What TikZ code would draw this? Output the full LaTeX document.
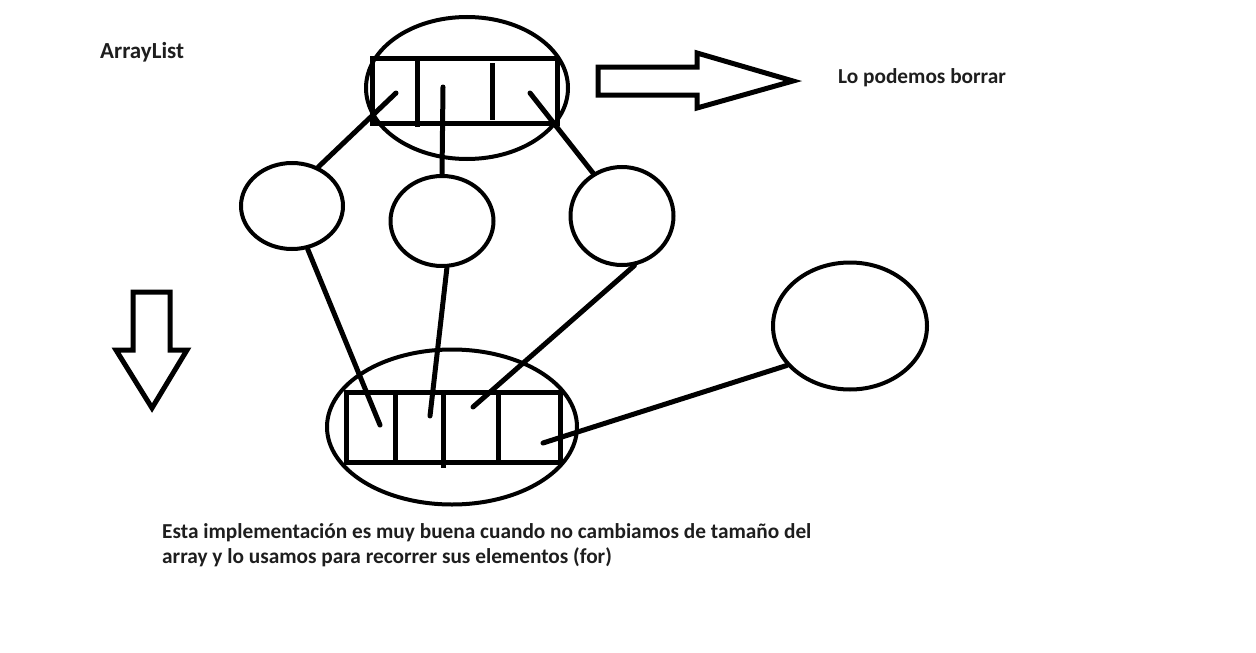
\documentclass[tikz,border=0pt]{standalone}
\usepackage{fontspec}
\setmainfont{Carlito}
\usetikzlibrary{shapes.geometric}
\definecolor{inkgray}{HTML}{1E1E1E}

\begin{document}
\begin{tikzpicture}[x=1pt,y=-1pt,
    every node/.style={inner sep=0pt},
    setnode/.style={shape=ellipse,draw,line width=4pt},
    arrnode/.style={shape=rectangle,draw,line width=5pt},
    link/.style={line width=5pt,line cap=round},
    label/.style={anchor=base west,text=inkgray,font=\fontsize{21.3}{25}\selectfont\bfseries,align=left},
    bigarrow/.style={draw,line width=5pt,line join=miter,fill=white}]
    \useasboundingbox[fill=white] (0,0) rectangle (1256,653);
	    % top array and its set
	    \node[setnode,minimum width=202pt,minimum height=142pt] (topset) at (467,88) {};
	    \node[arrnode,minimum width=185pt,minimum height=65pt] (toparr) at (464.5,90.5) {};
	    \draw[link,line cap=butt] (417,58) -- (417,127);
	    \draw[link,line cap=butt] (492,63) -- (492,120);
	    % elements
	    \node[setnode,minimum width=102pt,minimum height=86pt] (lc) at (292,206) {};
	    \node[setnode,minimum width=103pt,minimum height=90pt] (mc) at (442,221) {};
	    \node[setnode,minimum width=103pt,minimum height=98pt] (rc) at (622,216) {};
	    \node[setnode,minimum width=154pt,minimum height=127pt] (nc) at (850,326) {}; %new element
	    % bottom array and its set
	    \node[setnode,minimum width=250pt,minimum height=155pt] (botset) at (452,427) {};
	    \node[arrnode,minimum width=214pt,minimum height=70pt] (botarr) at (453,427) {};
	    \draw[link,line cap=butt] (395,392) -- (395,462);
	    \draw[link,line cap=butt] (443,392) -- (443,468);
	    \draw[link,line cap=butt] (498,392) -- (498,462);
	    % cell pointers
	    \coordinate (t1) at (396,93);
	    \coordinate (t2) at (443,87);
	    \coordinate (t3) at (530,93);
	    \coordinate (b1) at (380,425);
	    \coordinate (b2) at (430,416);
	    \coordinate (b3) at (473,407);
	    \coordinate (b4) at (543,443);
	    \draw[link] (t1) -- (lc.56);
	    \draw[link] (t2) -- (mc.north);
	    \draw[link] (t3) -- (rc.124);
	    \draw[link] (lc.-70) -- (b1);
	    \draw[link] (mc.-84) -- (b2);
	    \draw[link] (rc.-76) -- (b3);
	    \draw[link] (nc.212) -- (b4);
	    % hollow arrows
	    \draw[bigarrow] (598,67) -- (697,67) -- (697,53) -- (793,81) -- (697,108) -- (697,95) -- (598,95) -- cycle;
	    \draw[bigarrow] (133,292) -- (170,292) -- (170,350) -- (187,350) -- (152,408) -- (116,350) -- (133,350) -- cycle;
	    % texts
	    \node[label,font=\fontsize{23}{28}\selectfont\bfseries] (title) at (100,58) {ArrayList};
	    \node[label] (erase) at (838,83) {Lo podemos borrar};
	    \node[label] (note) at (162,563) {Esta implementación es muy buena cuando no cambiamos de tamaño del\\array y lo usamos para recorrer sus elementos (for)};
\end{tikzpicture}
\end{document}
